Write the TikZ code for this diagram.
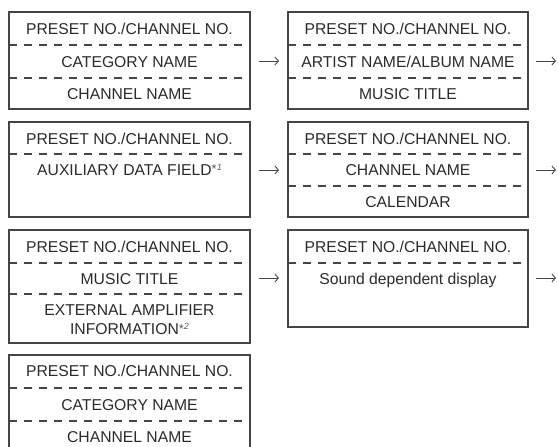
\documentclass[tikz,border=0pt]{standalone}
\usepackage{fontspec}
\setmainfont{Liberation Sans}
\usetikzlibrary{arrows.meta}
\definecolor{ln}{HTML}{454545}
\definecolor{tx}{HTML}{2B2B2B}
\definecolor{fn}{HTML}{5A5A5A}
\newcommand{\fnmark}[1]{\raisebox{1.5pt}{\fontsize{13}{13}\selectfont\textcolor{fn}{*}}\raisebox{5pt}{\fontsize{9}{9}\selectfont\textcolor{fn}{\textit{#1}}}}
\begin{document}
\begin{tikzpicture}[x=1pt,y=-1pt,
  frame/.style={draw=ln, line width=1.2pt, minimum width=241pt, inner sep=0pt, outer sep=0pt, anchor=north west},
  openframe/.style={minimum width=241pt, inner sep=0pt, outer sep=0pt, anchor=north west},
  sep/.style={draw=ln, line width=1.1pt, dash pattern=on 8pt off 7pt},
  lbl/.style={text=tx, font=\fontsize{15.7}{17}\selectfont, inner sep=0pt, text height=11pt, text depth=0pt},
  arr/.style={draw=ln, line width=0.9pt, -{Straight Barb[length=3.5pt,width=8pt]}}]
\useasboundingbox (0,0) rectangle (558,447);

% boxes
\node[frame, minimum height=97pt] (a1) at (9,12) {};
\node[frame, minimum width=240pt, minimum height=97pt] (a2) at (288,12) {};
\node[frame, minimum height=95pt] (b1) at (9,122) {};
\node[frame, minimum width=240pt, minimum height=95pt] (b2) at (288,122) {};
\node[frame, minimum height=113pt] (c1) at (9,230) {};
\node[frame, minimum width=240pt, minimum height=97pt] (c2) at (288,230) {};
\node[openframe, minimum height=100pt] (d1) at (9,355) {};
\draw[ln, line width=1.2pt] (d1.south west) -- (d1.north west) -- (d1.north east) -- (d1.south east);

% dashed separators
\draw[sep] (a1.west |- 0,45) -- (a1.east |- 0,45);
\draw[sep] (a1.west |- 0,78) -- (a1.east |- 0,78);
\draw[sep] (a2.west |- 0,45) -- (a2.east |- 0,45);
\draw[sep] (a2.west |- 0,78) -- (a2.east |- 0,78);
\draw[sep] (b1.west |- 0,154) -- (b1.east |- 0,154);
\draw[sep] (b2.west |- 0,154) -- (b2.east |- 0,154);
\draw[sep] (b2.west |- 0,186) -- (b2.east |- 0,186);
\draw[sep] (c1.west |- 0,263) -- (c1.east |- 0,263);
\draw[sep] (c1.west |- 0,294) -- (c1.east |- 0,294);
\draw[sep] (c2.west |- 0,263) -- (c2.east |- 0,263);
\draw[sep] (d1.west |- 0,388) -- (d1.east |- 0,388);
\draw[sep] (d1.west |- 0,421) -- (d1.east |- 0,421);

% texts row 1
\node[lbl] (a1t) at (129.5,29) {PRESET NO./CHANNEL NO.};
\node[lbl] (a1m) at (129.5,61.5) {CATEGORY NAME};
\node[lbl] (a1b) at (129.5,93.5) {CHANNEL NAME};
\node[lbl] (a2t) at (408,29) {PRESET NO./CHANNEL NO.};
\node[lbl] (a2m) at (408,61.5) {ARTIST NAME/ALBUM NAME};
\node[lbl] (a2b) at (408,93.5) {MUSIC TITLE};
% row 2
\node[lbl] (b1t) at (129.5,138.5) {PRESET NO./CHANNEL NO.};
\node[lbl] (b1m) at (129.5,169.5) {AUXILIARY DATA FIELD\fnmark{1}};
\node[lbl] (b2t) at (408,138.5) {PRESET NO./CHANNEL NO.};
\node[lbl] (b2m) at (408,169.5) {CHANNEL NAME};
\node[lbl] (b2b) at (408,201.5) {CALENDAR};
% row 3
\node[lbl] (c1t) at (129.5,246.5) {PRESET NO./CHANNEL NO.};
\node[lbl] (c1m) at (129.5,278.5) {MUSIC TITLE};
\node[lbl] (c1b) at (129.5,310) {EXTERNAL AMPLIFIER};
\node[lbl] (c1c) at (129.5,329) {INFORMATION\fnmark{2}};
\node[lbl] (c2t) at (408,246.5) {PRESET NO./CHANNEL NO.};
\node[lbl] (c2m) at (408,278.5) {Sound dependent display};
% row 4
\node[lbl] (d1t) at (129.5,371) {PRESET NO./CHANNEL NO.};
\node[lbl] (d1m) at (129.5,404.5) {CATEGORY NAME};
\node[lbl] (d1b) at (129.5,437) {CHANNEL NAME};

% arrows
\coordinate (endA) at (556,61);
\coordinate (endB) at (556,170);
\coordinate (endC) at (556,278);
\draw[arr] ([xshift=9pt]a1.east |- endA) -- ([xshift=-9pt]a2.west |- endA);
\draw[arr] ([xshift=8pt]a2.east |- endA) -- (endA);
\draw[arr] ([xshift=9pt]b1.east |- endB) -- ([xshift=-9pt]b2.west |- endB);
\draw[arr] ([xshift=8pt]b2.east |- endB) -- (endB);
\draw[arr] ([xshift=9pt]c1.east |- endC) -- ([xshift=-9pt]c2.west |- endC);
\draw[arr] ([xshift=8pt]c2.east |- endC) -- (endC);
\end{tikzpicture}
\end{document}
